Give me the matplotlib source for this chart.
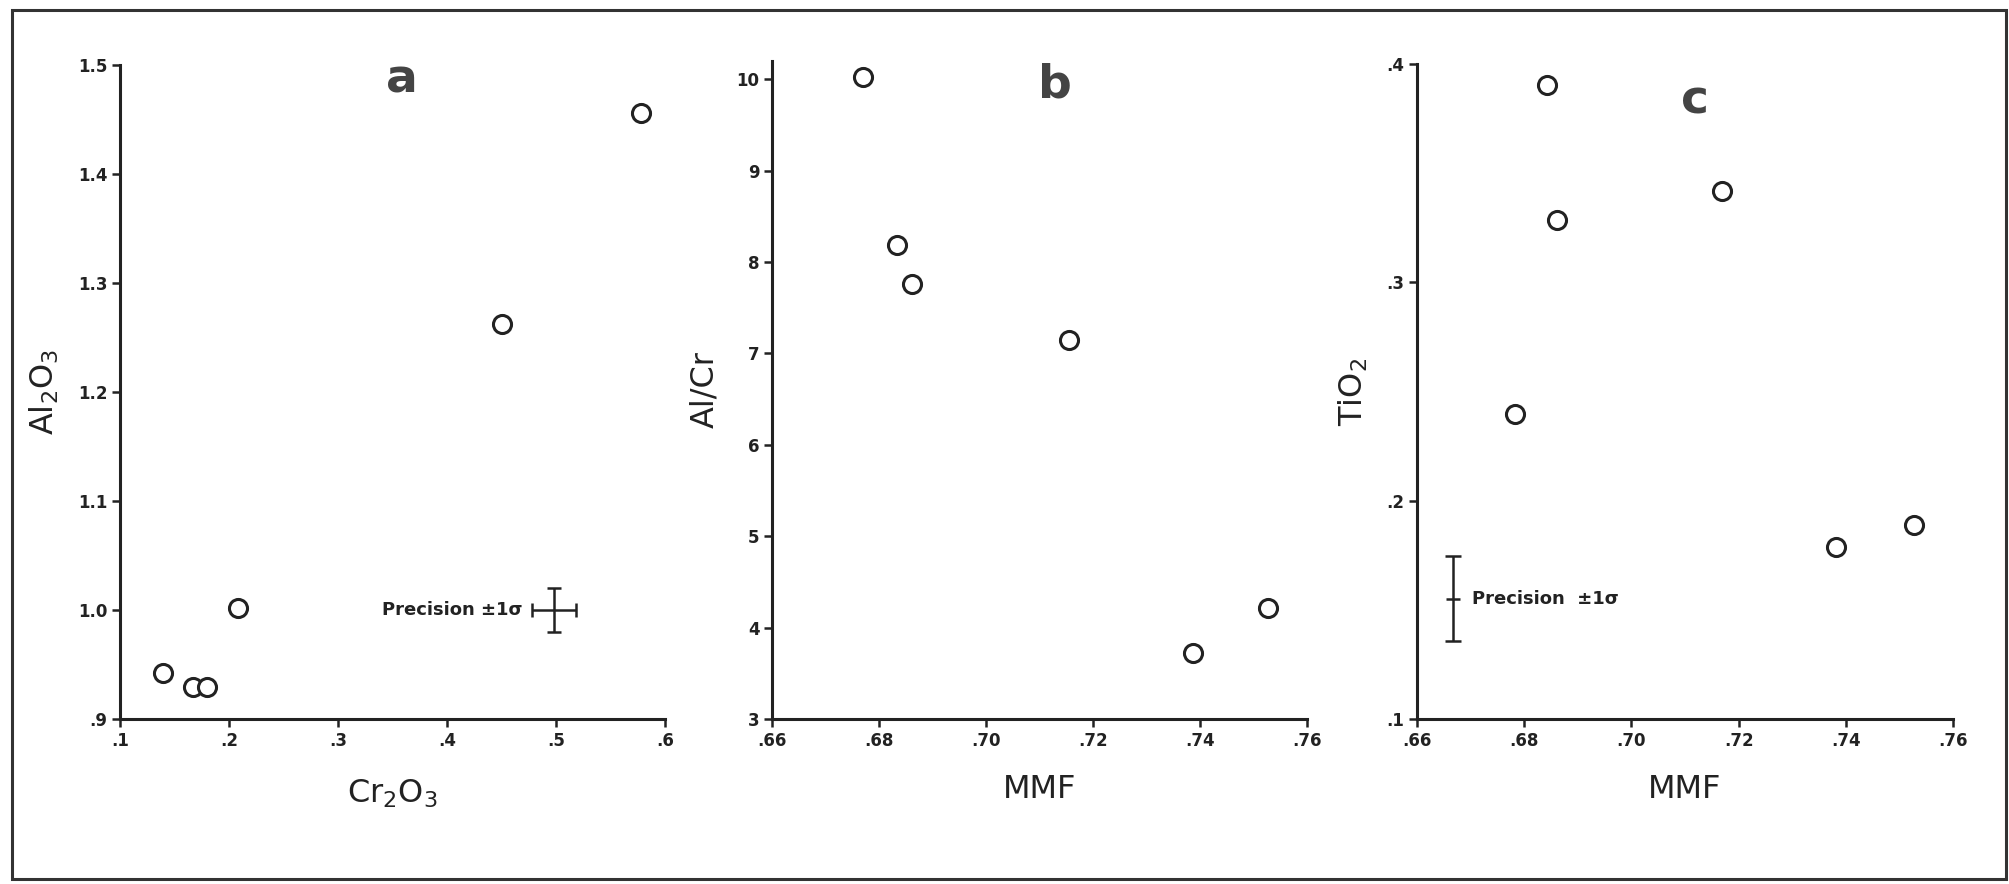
import numpy as np
import matplotlib
matplotlib.use('Agg')
import matplotlib.pyplot as plt
from matplotlib.patches import Rectangle

# panel a : Al2O3 vs Cr2O3
cr2o3 = [0.139, 0.167, 0.180, 0.208, 0.450, 0.578]
al2o3 = [0.942, 0.929, 0.929, 1.002, 1.262, 1.456]

# panel b : Al/Cr vs MMF
mmf_b = [0.677, 0.6834, 0.6861, 0.7155, 0.7387, 0.7528]
al_cr = [10.02, 8.19, 7.76, 7.15, 3.72, 4.22]

# panel c : TiO2 vs MMF
mmf_c = [0.6843, 0.6861, 0.7169, 0.6782, 0.7382, 0.7527]
tio2 = [0.3905, 0.3286, 0.342, 0.2397, 0.1786, 0.1889]

# precision bars (centre x, centre y, xerr, yerr)
prec_a = (0.498, 1.0, 0.02, 0.02)
prec_c = (0.6667, 0.155, 0.0013, 0.0195)

xt_a = [0.1, 0.2, 0.3, 0.4, 0.5, 0.6]
xtl_a = ['.1', '.2', '.3', '.4', '.5', '.6']
yt_a = [0.9, 1.0, 1.1, 1.2, 1.3, 1.4, 1.5]
ytl_a = ['.9', '1.0', '1.1', '1.2', '1.3', '1.4', '1.5']
xt_mmf = [0.66, 0.68, 0.70, 0.72, 0.74, 0.76]
xtl_mmf = ['.66', '.68', '.70', '.72', '.74', '.76']
yt_b = [3, 4, 5, 6, 7, 8, 9, 10]
ytl_b = ['3', '4', '5', '6', '7', '8', '9', '10']
yt_c = [0.1, 0.2, 0.3, 0.4]
ytl_c = ['.1', '.2', '.3', '.4']

ink = '#222222'
W, H = 2009, 884
fig = plt.figure(figsize=(W / 100, H / 100), dpi=100)
fig.patch.set_facecolor('white')

# outer frame
fig.patches.append(Rectangle((12 / W, 1 - 879 / H), (2006 - 12) / W, (879 - 10) / H,
                             transform=fig.transFigure, fill=False,
                             edgecolor='#333333', lw=2.2))

bot = 1 - 719 / H
ax_a = fig.add_axes([120 / W, bot, (665 - 120) / W, (719 - 65) / H])
ax_b = fig.add_axes([772 / W, bot, (1307 - 772) / W, (719 - 61) / H])
ax_c = fig.add_axes([1417 / W, bot, (1953 - 1417) / W, (719 - 64) / H])


def style(ax):
    for s in ['top', 'right']:
        ax.spines[s].set_visible(False)
    for s in ['left', 'bottom']:
        ax.spines[s].set_linewidth(2.2)
        ax.spines[s].set_color(ink)
    ax.tick_params(direction='out', length=6, width=1.8, color=ink,
                   labelsize=12, labelcolor=ink, pad=3)
    for lab in ax.get_xticklabels() + ax.get_yticklabels():
        lab.set_fontweight('bold')


def circles(ax, x, y):
    ax.plot(x, y, 'o', ms=13, mfc='white', mec=ink, mew=2.2, clip_on=False)


# a
circles(ax_a, cr2o3, al2o3)
ax_a.set_xlim(0.1, 0.6)
ax_a.set_ylim(0.9, 1.5)
ax_a.set_xticks(xt_a, xtl_a)
ax_a.set_yticks(yt_a, ytl_a)
style(ax_a)
ax_a.errorbar(prec_a[0], prec_a[1], xerr=prec_a[2], yerr=prec_a[3], fmt='none',
              ecolor=ink, elinewidth=1.8, capsize=5, capthick=1.8)
ax_a.text(0.469, 1.0, 'Precision \u00b11\u03c3', ha='right', va='center',
          fontsize=13, fontweight='bold', color=ink)
ax_a.text(0.359, 1.486, 'a', ha='center', va='center', fontsize=34,
          fontweight='bold', color='#444444')
ax_a.set_xlabel(r'Cr$_2$O$_3$', fontsize=23, color=ink, labelpad=20)
ax_a.set_ylabel(r'Al$_2$O$_3$', fontsize=23, color=ink, labelpad=12)

# b
circles(ax_b, mmf_b, al_cr)
ax_b.set_xlim(0.66, 0.76)
ax_b.set_ylim(3, 10.2)
ax_b.set_xticks(xt_mmf, xtl_mmf)
ax_b.set_yticks(yt_b, ytl_b)
style(ax_b)
ax_b.text(0.7129, 9.94, 'b', ha='center', va='center', fontsize=34,
          fontweight='bold', color='#444444')
ax_b.set_xlabel('MMF', fontsize=23, color=ink, labelpad=18)
ax_b.set_ylabel('Al/Cr', fontsize=23, color=ink, labelpad=12)

# c
circles(ax_c, mmf_c, tio2)
ax_c.set_xlim(0.66, 0.76)
ax_c.set_ylim(0.1, 0.4)
ax_c.set_xticks(xt_mmf, xtl_mmf)
ax_c.set_yticks(yt_c, ytl_c)
style(ax_c)
ax_c.errorbar(prec_c[0], prec_c[1], yerr=prec_c[3], fmt='none',
              ecolor=ink, elinewidth=1.8, capsize=6, capthick=1.8)
ax_c.errorbar(prec_c[0], prec_c[1], xerr=prec_c[2], fmt='none',
              ecolor=ink, elinewidth=1.8, capsize=0)
ax_c.text(0.6703, 0.155, 'Precision  \u00b11\u03c3', ha='left', va='center',
          fontsize=13, fontweight='bold', color=ink)
ax_c.text(0.7119, 0.383, 'c', ha='center', va='center', fontsize=34,
          fontweight='bold', color='#444444')
ax_c.set_xlabel('MMF', fontsize=23, color=ink, labelpad=18)
ax_c.set_ylabel(r'TiO$_2$', fontsize=23, color=ink, labelpad=12)

fig.savefig('out.png', dpi=100)
